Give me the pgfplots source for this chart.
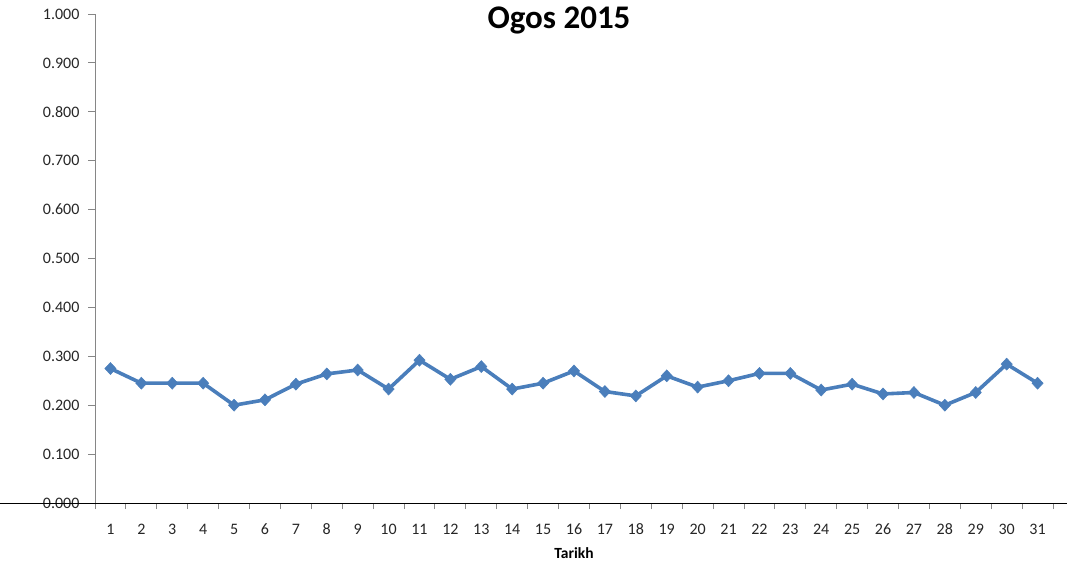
\documentclass[border=0pt]{standalone}
\usepackage{pgfplots}
\pgfplotsset{compat=1.18}
\usepackage{fontspec}
\setmainfont{Carlito}
\definecolor{serie}{HTML}{4A7EBB}
\definecolor{axgray}{HTML}{868686}
\pgfplotstableread{
d v
1 0.275
2 0.245
3 0.245
4 0.245
5 0.200
6 0.211
7 0.243
8 0.264
9 0.272
10 0.233
11 0.292
12 0.253
13 0.279
14 0.233
15 0.245
16 0.270
17 0.228
18 0.219
19 0.260
20 0.237
21 0.250
22 0.265
23 0.265
24 0.231
25 0.243
26 0.223
27 0.226
28 0.200
29 0.226
30 0.284
31 0.245
}\datatable
\begin{document}
\begin{tikzpicture}
\path[use as bounding box] (0,0) rectangle (1074pt,566pt);
\begin{axis}[
  at={(95pt,63pt)}, anchor=south west,
  scale only axis, width=958pt, height=489pt,
  xmin=0.5, xmax=31.5, ymin=0, ymax=1,
  axis x line*=bottom, axis y line*=left,
  axis line style={axgray, line width=0.9pt},
  xtick={1,...,31}, major x tick style={draw=none},
  minor xtick={0.5,1.5,...,31.5},
  minor x tick style={axgray, line width=0.9pt},
  ytick={0,0.1,...,1.0},
  y tick style={axgray, line width=0.9pt},
  tick align=outside, major tick length=7pt, minor tick length=6pt,
  yticklabel style={/pgf/number format/fixed, /pgf/number format/fixed zerofill, /pgf/number format/precision=3},
  /pgf/number format/assume math mode=true,
  tick label style={font=\fontsize{16}{18}\selectfont, text=black!85},
  xticklabel style={yshift=-10pt, text height=11pt, text depth=0pt},
  yticklabel style={xshift=-5pt},
  xlabel={\textbf{Tarikh}},
  xlabel style={font=\fontsize{15.5}{18}\selectfont, yshift=-6pt},
  clip=false,
]
\addplot[serie, line width=3.6pt, mark=diamond*, mark size=6pt, mark options={line width=0.5pt, xscale=1.25}] table[x=d, y=v] {\datatable};
\end{axis}
\draw[black, line width=1.4pt] (0,62.5pt) -- (1067pt,62.5pt);
\node[font=\bfseries\fontsize{33}{38}\selectfont] at (559pt,546pt) {Ogos 2015};
\end{tikzpicture}
\end{document}
